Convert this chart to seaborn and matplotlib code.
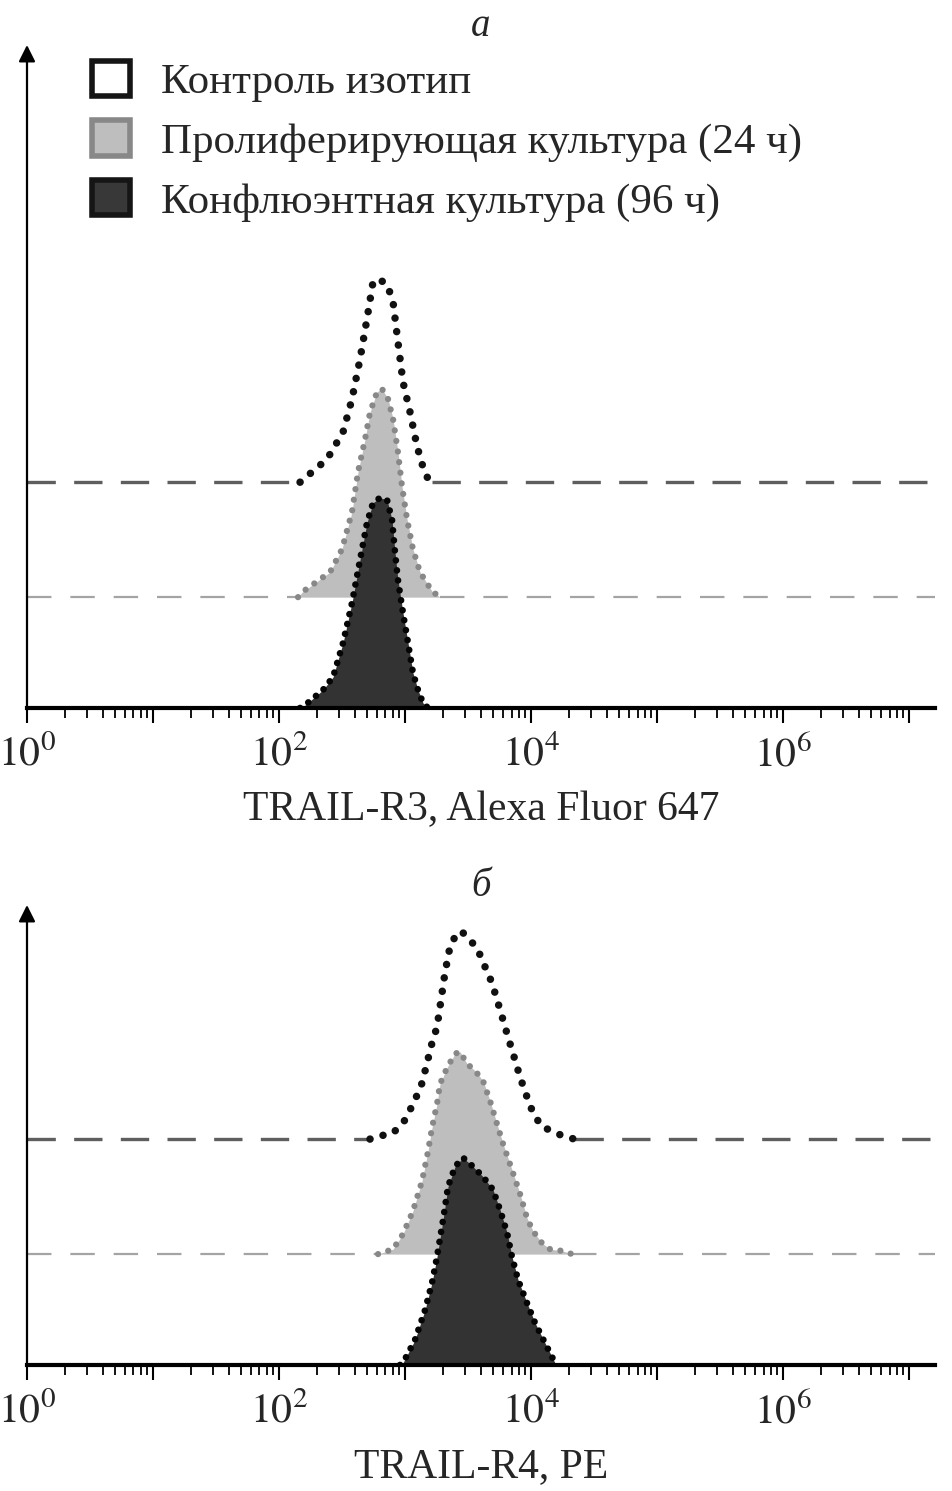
import numpy as np
import matplotlib
matplotlib.use("Agg")
import matplotlib.pyplot as plt
import seaborn as sns
from matplotlib.patches import Patch
from matplotlib.ticker import FixedLocator, FixedFormatter, LogLocator, NullFormatter

# ---------------------------
# data (log10 fluorescence, counts as % of max)
# ---------------------------
labels = ["Контроль изотип", "Пролиферирующая культура (24 ч)", "Конфлюэнтная культура (96 ч)"]
panel_titles = ["а", "б"]
x_titles = ["TRAIL-R3, Alexa Fluor 647", "TRAIL-R4, PE"]
tick_labels = ["$10^{0}$", "", "$10^{2}$", "", "$10^{4}$", "", "$10^{6}$", ""]

# panel а — TRAIL-R3
r3_ctrl_log = [2.167, 2.381, 2.508, 2.579, 2.643, 2.698, 2.746, 2.786, 2.857, 2.905, 2.944, 2.984, 3.040, 3.095, 3.143, 3.183, 3.214]
r3_ctrl_cnt = [0, 11.2, 24.4, 40.5, 60, 79.5, 97.6, 99, 96.6, 87.8, 68.3, 48.8, 34.1, 17.6, 7.3, 1.5, 0]
r3_prol_log = [2.151, 2.183, 2.405, 2.500, 2.579, 2.627, 2.683, 2.722, 2.778, 2.817, 2.865, 2.905, 2.944, 2.976, 3.016, 3.063, 3.119, 3.214, 3.278]
r3_prol_cnt = [0, 2.4, 12.2, 23.4, 41.5, 61, 77, 90, 100, 101.5, 96.6, 86.8, 70.7, 54.1, 38, 23.4, 12.2, 2.9, 0]
r3_conf_log = [2.167, 2.190, 2.349, 2.429, 2.508, 2.579, 2.643, 2.698, 2.746, 2.802, 2.857, 2.897, 2.921, 2.944, 2.984, 3.024, 3.063, 3.103, 3.143, 3.183]
r3_conf_cnt = [0, 0.5, 8.8, 15.1, 31.7, 51.2, 72.2, 90.2, 100, 102.4, 101.5, 91.7, 75.6, 62.4, 46.3, 31.7, 17.1, 8.8, 2.4, 0]

# panel б — TRAIL-R4
r4_ctrl_log = [2.722, 2.762, 2.905, 3.000, 3.079, 3.135, 3.175, 3.214, 3.254, 3.294, 3.317, 3.357, 3.413, 3.452, 3.571, 3.635, 3.690, 3.738, 3.778, 3.817, 3.873, 3.913, 3.968, 4.016, 4.087, 4.151, 4.270, 4.349]
r4_ctrl_cnt = [0, 1, 2.9, 9.3, 19, 27.3, 37.1, 46.8, 54.6, 71.2, 81, 93.7, 100.5, 101, 93.2, 83.9, 76.1, 66.3, 58, 49.8, 38.5, 30.2, 20.5, 12.7, 5.9, 4.4, 1, 0]
r4_prol_log = [2.786, 2.905, 2.984, 3.063, 3.135, 3.183, 3.214, 3.254, 3.278, 3.333, 3.397, 3.437, 3.492, 3.556, 3.619, 3.675, 3.730, 3.778, 3.833, 3.913, 3.968, 4.016, 4.087, 4.151, 4.254, 4.325]
r4_prol_cnt = [0, 2.4, 9.8, 21, 35.6, 50.2, 61.5, 73.2, 82.9, 90.7, 97.6, 98.5, 92.7, 89.3, 84.4, 74.6, 63.4, 53.7, 43.9, 29.3, 17.6, 11.2, 5.4, 2.4, 1.5, 0]
r4_conf_log = [2.960, 2.984, 3.079, 3.159, 3.214, 3.254, 3.302, 3.341, 3.397, 3.460, 3.540, 3.619, 3.698, 3.754, 3.810, 3.849, 3.897, 3.968, 4.032, 4.111, 4.167, 4.198]
r4_conf_cnt = [0, 1, 12.2, 26.8, 40, 52.7, 70.7, 86.8, 96.6, 101, 96.6, 91.7, 85.4, 75.6, 64.4, 52.7, 41.5, 30.2, 20.5, 10.7, 3.9, 0]

# vertical offsets of the stacked histograms
ctrl_offset = 110
prol_offset = 54

sns.set_style("white")
plt.rcParams['font.family'] = ['Liberation Serif', 'DejaVu Serif']
plt.rcParams['mathtext.fontset'] = 'stix'

XMIN, XMAX = 1, 10 ** 7.206


def draw_trace(ax, logx, cnt, base, fill, edge, lw, gap, z, base_color=None, base_lw=None, base_dash=None):
    x = 10 ** np.array(logx)
    y = np.array(cnt) + base
    if fill is not None:
        ax.fill_between(x, base, y, color=fill, lw=0, zorder=z)
    sns.lineplot(x=x, y=y, ax=ax, color=edge, lw=lw, linestyle=(0, (0.01, gap)),
                 dash_capstyle='round', sort=False, estimator=None, zorder=z + 0.1)
    if base_color is not None:
        for xa, xb in [(XMIN, x[0]), (x[-1], XMAX)]:
            ax.plot([xa, xb], [base, base], color=base_color, lw=base_lw,
                    linestyle=(0, base_dash), zorder=z - 0.5)


def draw_panel(ax, ctrl, prol, conf, ytop, title, xtitle):
    draw_trace(ax, ctrl[0], ctrl[1], ctrl_offset, None, '#111111', 5.4, 1.8, 2,
               '#5e5e5e', 2.4, (8.5, 5.5))
    draw_trace(ax, prol[0], prol[1], prol_offset, '#bebebe', '#888888', 4.5, 1.7, 3,
               '#a4a4a4', 1.6, (11, 8.5))
    draw_trace(ax, conf[0], conf[1], 0, '#333333', '#050505', 4.8, 1.5, 4)

    ax.set_xscale('log')
    ax.set_xlim(XMIN, XMAX)
    ax.set_ylim(0, ytop)
    ax.xaxis.set_major_locator(FixedLocator(10.0 ** np.arange(0, 8)))
    ax.xaxis.set_major_formatter(FixedFormatter(tick_labels))
    ax.xaxis.set_minor_locator(LogLocator(base=10, subs=np.arange(2, 10), numticks=100))
    ax.xaxis.set_minor_formatter(NullFormatter())
    ax.tick_params(axis='x', which='major', length=11, width=1.5, direction='out',
                   color='black', labelsize=30, pad=9, bottom=True)
    ax.tick_params(axis='x', which='minor', length=7, width=1.3, direction='out',
                   color='black', bottom=True)
    ax.set_yticks([])
    for s in ['top', 'right', 'left']:
        ax.spines[s].set_visible(False)
    ax.spines['bottom'].set_linewidth(3.0)
    ax.spines['bottom'].set_color('black')
    ax.spines['bottom'].set_zorder(6)
    ax.annotate('', xy=(0, 1), xytext=(0, 0), xycoords='axes fraction',
                arrowprops=dict(arrowstyle='-|>', color='black', lw=1.6,
                                mutation_scale=25, shrinkA=0, shrinkB=0))
    ax.set_title(title, style='italic', fontsize=28, pad=6)
    ax.set_xlabel(xtitle, fontsize=30, labelpad=11)


fig = plt.figure(figsize=(9.53, 14.91), dpi=100)
ax_a = fig.add_axes([0.02833, 0.52515, 0.95278, 0.44467])
ax_b = fig.add_axes([0.02833, 0.08451, 0.95278, 0.30852])

draw_panel(ax_a, (r3_ctrl_log, r3_ctrl_cnt), (r3_prol_log, r3_prol_cnt),
           (r3_conf_log, r3_conf_cnt), 323, panel_titles[0], x_titles[0])
draw_panel(ax_b, (r4_ctrl_log, r4_ctrl_cnt), (r4_prol_log, r4_prol_cnt),
           (r4_conf_log, r4_conf_cnt), 224, panel_titles[1], x_titles[1])

handles = [Patch(facecolor='white', edgecolor='#151515', lw=4),
           Patch(facecolor='#bebebe', edgecolor='#888888', lw=4),
           Patch(facecolor='#383838', edgecolor='#151515', lw=4)]
ax_a.legend(handles, labels, loc='upper left', bbox_to_anchor=(0.0716, 0.976),
            frameon=False, fontsize=31, handlelength=0.88, handleheight=0.88,
            handletextpad=0.72, labelspacing=0.42, borderpad=0, borderaxespad=0)

fig.savefig("out.png", dpi=100)
